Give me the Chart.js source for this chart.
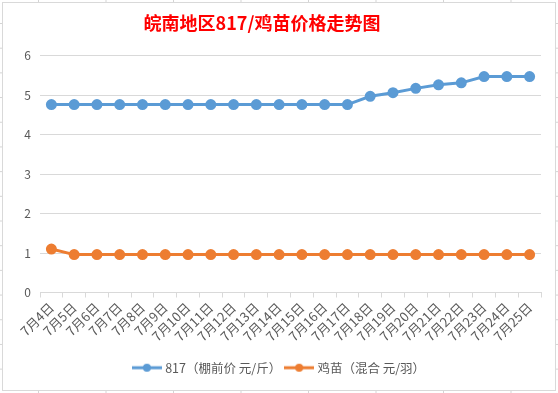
<!DOCTYPE html>
<html>
<head>
<meta charset="utf-8">
<script src="https://cdn.jsdelivr.net/npm/chart.js@4.4.1/dist/chart.umd.min.js"></script>
<style>
  html, body { margin: 0; padding: 0; }
  body {
    width: 558px; height: 393px; overflow: hidden; position: relative;
    background-color: #fff;
    background-image:
      linear-gradient(to right, #d4d4d4 1px, transparent 1px),
      linear-gradient(to bottom, #d4d4d4 1px, transparent 1px);
    background-size: 67.5px 100%, 100% 24.7px;
    background-position: 38px 0, 0 23px;
  }
  #box {
    position: absolute; left: 2px; top: 2px;
    width: 552px; height: 387px;
    border: 1px solid #d9d9d9; background: #fff;
  }
</style>
</head>
<body>
<div id="box"><canvas id="myChart" width="552" height="387"></canvas></div>
<script>
var days = ['7月4日','7月5日','7月6日','7月7日','7月8日','7月9日','7月10日','7月11日',
  '7月12日','7月13日','7月14日','7月15日','7月16日','7月17日','7月18日','7月19日',
  '7月20日','7月21日','7月22日','7月23日','7月24日','7月25日'];

var price817 = [4.76,4.76,4.76,4.76,4.76,4.76,4.76,4.76,4.76,4.76,4.76,4.76,4.76,4.76,
  4.97,5.06,5.17,5.26,5.31,5.47,5.47,5.47];

var chickPrice = [1.10,0.96,0.96,0.96,0.96,0.96,0.96,0.96,0.96,0.96,0.96,0.96,0.96,0.96,
  0.96,0.96,0.96,0.96,0.96,0.96,0.96,0.96];

var seriesNames = ['817（棚前价 元/斤）', '鸡苗（混合 元/羽）'];
var seriesColors = ['#5B9BD5', '#ED7D31'];
var yTicks = [0, 1, 2, 3, 4, 5, 6];

var fontName = '"Noto Sans CJK SC", "Noto Sans", sans-serif';

// little line+dot picture for the legend (a bit wider than its box so the text sits close)
function legendMark(color) {
  var c = document.createElement('canvas');
  c.width = 30; c.height = 10;
  var g = c.getContext('2d');
  g.strokeStyle = color;
  g.lineWidth = 3;
  g.beginPath(); g.moveTo(0, 5); g.lineTo(30, 5); g.stroke();
  g.fillStyle = color;
  g.beginPath(); g.arc(15, 5, 4, 0, Math.PI * 2); g.fill();
  return c;
}

var chartdata = {
  labels: [...days],
  datasets: [{
    label: seriesNames[0],
    data: [...price817],
    borderColor: seriesColors[0],
    backgroundColor: seriesColors[0],
    borderWidth: 3,
    pointRadius: 4,
    pointHoverRadius: 4,
    fill: false
  }, {
    label: seriesNames[1],
    data: [...chickPrice],
    borderColor: seriesColors[1],
    backgroundColor: seriesColors[1],
    borderWidth: 3,
    pointRadius: 4,
    pointHoverRadius: 4,
    fill: false
  }]
};

var ctx = document.getElementById('myChart');

var lineChart = new Chart(ctx, {
  type: 'line',
  data: chartdata,
  options: {
    responsive: false,
    animation: false,
    layout: { padding: { left: 16, right: 14, top: 0, bottom: 6 } },
    plugins: {
      title: {
        display: true,
        // title sits left of centre in the original
        text: '皖南地区817/鸡苗价格走势图\u3000\u3000',
        color: '#FF0000',
        font: { family: fontName, size: 18, weight: 'bold' },
        padding: { top: 9, bottom: 22 }
      },
      legend: {
        position: 'bottom',
        labels: {
          color: '#595959',
          font: { family: fontName, size: 12.5 },
          usePointStyle: true,
          pointStyleWidth: 24,
          padding: 6,
          generateLabels: function (chart) {
            return chart.data.datasets.map(function (ds, i) {
              return {
                text: ds.label,
                pointStyle: legendMark(seriesColors[i]),
                fillStyle: seriesColors[i],
                strokeStyle: seriesColors[i],
                lineWidth: 0,
                fontColor: '#595959',
                datasetIndex: i
              };
            });
          }
        }
      },
      tooltip: { enabled: false }
    },
    scales: {
      x: {
        offset: true,
        grid: {
          offset: true,
          drawOnChartArea: false,
          drawTicks: true,
          tickLength: 5,
          color: '#d9d9d9'
        },
        border: { color: '#d9d9d9' },
        ticks: {
          color: '#595959',
          font: { family: fontName, size: 13 },
          autoSkip: false,
          minRotation: 45,
          maxRotation: 45,
          padding: 2
        },
        afterFit: function (scale) { scale.height = 63; }
      },
      y: {
        min: yTicks[0],
        max: yTicks[yTicks.length - 1],
        afterBuildTicks: function (scale) {
          scale.ticks = yTicks.map(function (v) { return { value: v }; });
        },
        grid: { color: '#d9d9d9', drawTicks: false },
        border: { display: false },
        ticks: {
          color: '#595959',
          font: { family: fontName, size: 12 },
          padding: 9
        },
        afterFit: function (scale) { scale.width = 21; }
      }
    }
  }
});
</script>
</body>
</html>
